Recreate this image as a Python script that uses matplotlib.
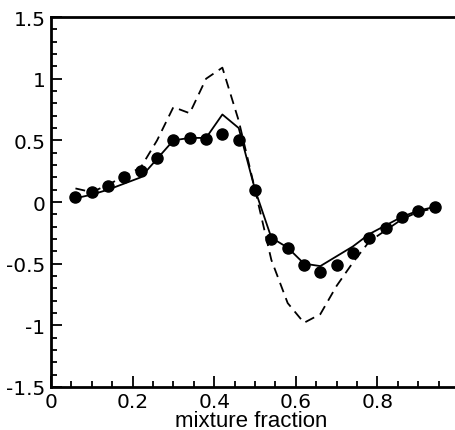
import matplotlib
matplotlib.use("Agg")
from matplotlib import pyplot as plt
from matplotlib.ticker import MultipleLocator
import numpy as np

plt.rcParams['font.family'] = ['DejaVu Sans']

# symbols (measured)
x_dots = [0.06, 0.10, 0.14, 0.18, 0.22, 0.26, 0.30, 0.34, 0.38, 0.42, 0.46, 0.50,
          0.54, 0.58, 0.62, 0.66, 0.70, 0.74, 0.78, 0.82, 0.86, 0.90, 0.94]
y_dots = [0.04, 0.08, 0.13, 0.20, 0.25, 0.36, 0.50, 0.52, 0.51, 0.55, 0.50, 0.10,
          -0.30, -0.37, -0.51, -0.57, -0.51, -0.41, -0.29, -0.21, -0.12, -0.07, -0.04]

# solid model line
x_solid = [0.06, 0.10, 0.14, 0.18, 0.22, 0.26, 0.30, 0.34, 0.38, 0.42, 0.46, 0.50,
           0.54, 0.58, 0.62, 0.66, 0.70, 0.74, 0.78, 0.82, 0.86, 0.90, 0.94]
y_solid = [0.03, 0.06, 0.10, 0.15, 0.20, 0.35, 0.50, 0.52, 0.52, 0.71, 0.60, 0.10,
           -0.29, -0.37, -0.50, -0.52, -0.44, -0.36, -0.26, -0.19, -0.12, -0.07, -0.04]

# dashed model line
x_dash = [0.06, 0.10, 0.14, 0.18, 0.22, 0.26, 0.30, 0.34, 0.38, 0.42, 0.46, 0.50,
          0.54, 0.58, 0.62, 0.66, 0.70, 0.74, 0.78, 0.82, 0.86, 0.90, 0.94]
y_dash = [0.11, 0.08, 0.14, 0.21, 0.28, 0.50, 0.77, 0.72, 1.00, 1.09, 0.66, 0.10,
          -0.47, -0.82, -0.98, -0.91, -0.68, -0.49, -0.32, -0.23, -0.14, -0.08, -0.05]

fig = plt.figure(figsize=(4.55, 4.31), dpi=100)
ax = fig.add_axes([0.112, 0.100, 0.897, 0.858])

ax.plot(x_dash, y_dash, color='black', lw=1.3, dashes=(5.5, 3.5))
ax.plot(x_solid, y_solid, color='black', lw=1.3)
ax.plot(x_dots, y_dots, 'o', color='black', ms=8)

ax.set_xlim(0, 1)
ax.set_ylim(-1.5, 1.5)
ax.xaxis.set_minor_locator(MultipleLocator(0.05))
ax.yaxis.set_minor_locator(MultipleLocator(0.1))
ax.set_xticks([0, 0.2, 0.4, 0.6, 0.8, 1.0])
ax.set_xticklabels(['0', '0.2', '0.4', '0.6', '0.8', '1'])
ax.set_yticks([-1.5, -1, -0.5, 0, 0.5, 1, 1.5])
ax.set_yticklabels(['-1.5', '-1', '-0.5', '0', '0.5', '1', '1.5'])

ax.tick_params(which='both', direction='in', top=False, right=False, labelsize=14.5, width=1.3)
ax.tick_params(which='major', length=8, pad=4)
ax.tick_params(which='minor', length=4)
for s in ax.spines.values():
    s.set_linewidth(2)

ax.set_xlabel('mixture fraction', fontsize=16, family='Liberation Sans')
ax.xaxis.set_label_coords(0.49, -0.062)

fig.savefig('out.png', dpi=100)
